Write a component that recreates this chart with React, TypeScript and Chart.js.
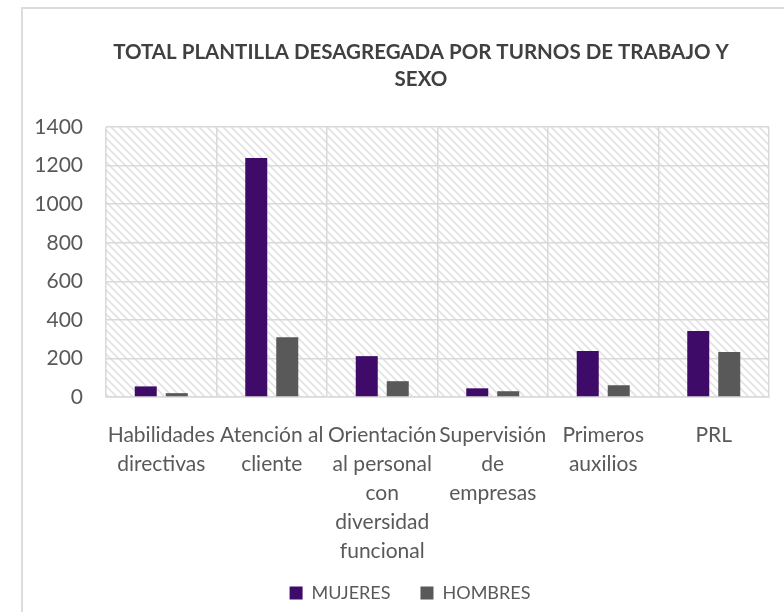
import React, { useEffect, useRef } from "react";
import { Chart, registerables } from "chart.js";

Chart.register(...registerables);

const categories: string[][] = [
  ["Habilidades", "directivas"],
  ["Atención al", "cliente"],
  ["Orientación", "al personal", "con", "diversidad", "funcional"],
  ["Supervisión", "de", "empresas"],
  ["Primeros", "auxilios"],
  ["PRL"],
];
const mujeres = [55, 1240, 212, 45, 238, 342];
const hombres = [20, 310, 82, 30, 61, 233];
const yMin = 0;
const yMax = 1400;
const yStep = 200;
const titleLines = ["TOTAL PLANTILLA DESAGREGADA POR TURNOS DE TRABAJO Y", "SEXO"];
const seriesNames = ["MUJERES", "HOMBRES"];

const FONT = "Lato, 'Open Sans', sans-serif";
const GRID = "#d9d9d9";
const TEXT = "#595959";

const hatchPlugin = {
  id: "hatchBg",
  beforeDraw(chart: any) {
    const { ctx, chartArea: a } = chart;
    if (!a) return;
    const p = document.createElement("canvas");
    p.width = 8;
    p.height = 8;
    const pc = p.getContext("2d")!;
    pc.fillStyle = "#ffffff";
    pc.fillRect(0, 0, 8, 8);
    pc.strokeStyle = "#e2e2e2";
    pc.lineWidth = 1.6;
    pc.beginPath();
    pc.moveTo(-2, -2);
    pc.lineTo(10, 10);
    pc.moveTo(-2, 6);
    pc.lineTo(2, 10);
    pc.moveTo(6, -2);
    pc.lineTo(10, 2);
    pc.stroke();
    const pat = ctx.createPattern(p, "repeat");
    ctx.save();
    ctx.fillStyle = pat;
    ctx.fillRect(a.left, a.top, a.right - a.left, a.bottom - a.top);
    ctx.restore();
  },
};

// centre title and legend as in the original frame; let x labels run under the legend box
const shiftPlugin = {
  id: "shiftBoxes",
  afterLayout(chart: any) {
    const t = chart.titleBlock;
    if (t) {
      const dx = 421 - (t.left + t.right) / 2;
      t.left += dx;
      t.right += dx;
    }
    const l = chart.legend;
    if (l) {
      const dx = 410 - (l.left + l.right) / 2;
      l.left += dx;
      l.right += dx;
    }
    const x = chart.scales.x;
    if (x) x.bottom = chart.height;
  },
};

export default function App() {
  const ref = useRef<HTMLCanvasElement | null>(null);

  useEffect(() => {
    if (!ref.current) return;
    const chart = new Chart(ref.current, {
      type: "bar",
      data: {
        labels: categories,
        datasets: [
          {
            label: seriesNames[0],
            data: mujeres,
            backgroundColor: "#3F0B68",
            categoryPercentage: 0.561,
            barPercentage: 0.71,
          },
          {
            label: seriesNames[1],
            data: hombres,
            backgroundColor: "#595959",
            categoryPercentage: 0.561,
            barPercentage: 0.71,
          },
        ],
      },
      plugins: [hatchPlugin, shiftPlugin],
      options: {
        animation: false,
        responsive: false,
        maintainAspectRatio: false,
        layout: { padding: { left: 22, right: 15, top: 8, bottom: 0 } },
        plugins: {
          title: {
            display: true,
            text: titleLines,
            color: "#404040",
            font: { family: FONT, size: 20.5, weight: "bold", lineHeight: 1.32 },
            padding: { top: 31, bottom: 34 },
          },
          legend: {
            position: "bottom",
            labels: {
              color: TEXT,
              font: { family: FONT, size: 18 },
              boxWidth: 13,
              boxHeight: 13,
              padding: 30,
            },
          },
          tooltip: { enabled: false },
        },
        scales: {
          x: {
            grid: { color: GRID, lineWidth: 1.5, drawTicks: false, offset: true },
            border: { color: GRID, width: 1.5 },
            ticks: {
              color: TEXT,
              font: { family: FONT, size: 21, lineHeight: 1.38 },
              padding: 24,
              autoSkip: false,
              maxRotation: 0,
              minRotation: 0,
            },
            afterFit(scale: any) {
              const lh = scale.chart.legend ? scale.chart.legend.height : 40;
              scale.height = 612 - 397 - lh;
            },
          },
          y: {
            min: yMin,
            max: yMax,
            grid: { color: GRID, lineWidth: 1.5, drawTicks: false },
            border: { display: false },
            ticks: {
              stepSize: yStep,
              color: TEXT,
              font: { family: FONT, size: 21 },
              padding: 23,
              callback: (v: any) => String(v),
            },
            afterFit(scale: any) {
              scale.width = 84;
            },
          },
        },
      },
    });
    return () => chart.destroy();
  }, []);

  return (
    <div style={{ position: "fixed", left: 0, top: 0, width: 784, height: 612, overflow: "hidden", background: "#fff" }}>
      <div
        style={{
          position: "absolute",
          left: 21,
          top: 7,
          width: 800,
          height: 700,
          borderLeft: "2px solid #dcdcdc",
          borderTop: "2px solid #dcdcdc",
          boxSizing: "border-box",
        }}
      />
      <canvas ref={ref} width={784} height={612} style={{ position: "absolute", left: 0, top: 0 }} />
    </div>
  );
}
